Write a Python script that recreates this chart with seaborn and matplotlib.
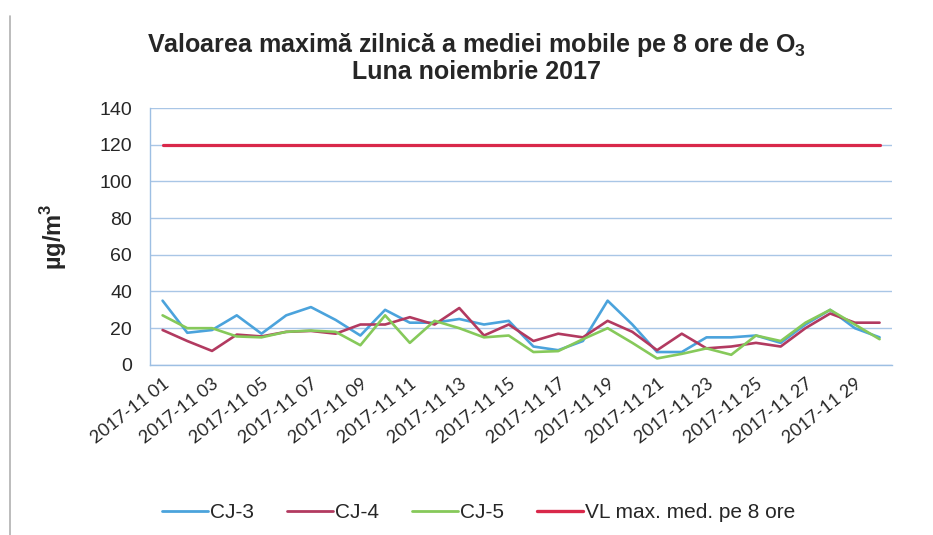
import numpy as np
import pandas as pd
import matplotlib
matplotlib.use("Agg")
import matplotlib.pyplot as plt
import seaborn as sns
from matplotlib.lines import Line2D

dates = [f"2017-11-{d:02d}" for d in range(1, 31)]
tick_labels = [f"2017-11 {d:02d}" for d in range(1, 31, 2)]

cj3 = [35, 17.5, 19, 27, 17, 27, 31.5, 24.5, 16, 30, 23, 23, 25, 22, 24, 10, 8, 13, 35, 22,
       7, 7, 15, 15, 16, 12, 22, 30, 20, 15]
cj4 = [19, 13, 7.6, 16.5, 15.5, 18, 18.5, 17, 22, 22, 26, 22, 31, 16, 22, 13, 17, 15, 24, 18,
       8, 17, 9, 10, 12, 10, 20, 28, 23, 23]
cj5 = [27, 20, 20, 15.5, 15, 18, 18.7, 18, 10.7, 27, 12, 24, 20, 15, 16, 7, 7.5, 14, 20, 12,
       3.5, 6, 9, 5.5, 16, 13, 23, 30, 22, 14]
vl = [120] * 30

series_names = ["CJ-3", "CJ-4", "CJ-5", "VL max. med. pe 8 ore"]
colors = ["#4ba3dc", "#b23a60", "#86c95a", "#d9284a"]

df = pd.DataFrame({
    "idx": np.tile(np.arange(30), 4),
    "value": cj3 + cj4 + cj5 + vl,
    "series": np.repeat(series_names, 30),
})

sns.set_style("white")
plt.rcParams["font.family"] = ["Liberation Sans", "DejaVu Sans"]
plt.rcParams["mathtext.fontset"] = "custom"
plt.rcParams["mathtext.rm"] = "Liberation Sans"
plt.rcParams["mathtext.bf"] = "Liberation Sans:bold"

fig = plt.figure(figsize=(9.33, 5.35), dpi=100)
ax = fig.add_axes([0.161, 0.318, 0.795, 0.48])

sns.lineplot(data=df, x="idx", y="value", hue="series", palette=colors,
             hue_order=series_names, linewidth=1.9, ax=ax, legend=False)
for ln, name in zip(ax.get_lines(), series_names):
    if name == "VL max. med. pe 8 ore":
        ln.set_linewidth(2.3)

ax.set_xlim(-0.5, 29.5)
ax.set_ylim(0, 140)
ax.set_yticks(range(0, 141, 20))
ax.yaxis.grid(True, color="#a9c6e6", linewidth=1.0)
ax.xaxis.grid(False)
for s in ["top", "right"]:
    ax.spines[s].set_visible(False)
for s in ["left", "bottom"]:
    ax.spines[s].set_color("#9dbfe3")
    ax.spines[s].set_linewidth(1.0)

ax.set_xticks(np.arange(0, 30, 2))
ax.set_xticklabels(tick_labels, rotation=38, ha="right", va="top",
                   rotation_mode="anchor", fontsize=13, family=["Lato", "DejaVu Sans"])
ax.set_xticks(np.arange(-0.5, 30, 1), minor=True)
ax.tick_params(axis="x", which="major", length=0, pad=8)
ax.tick_params(axis="x", which="minor", length=5, color="#9dbfe3", direction="in")
ax.tick_params(axis="y", length=5, color="#9dbfe3", labelsize=14, pad=8)
ax.set_xlabel("")
ax.set_ylabel(r"µg/m$^\mathbf{3}$", fontsize=17, fontweight="bold", labelpad=22)

fig.text(0.511, 0.915, r"Valoarea maximă zilnică a mediei mobile pe 8 ore de O$_\mathbf{3}$",
         ha="center", va="center", fontsize=18, fontweight="bold")
fig.text(0.511, 0.865, "Luna noiembrie 2017", ha="center", va="center",
         fontsize=18, fontweight="bold")

handles = [Line2D([], [], color=c, linewidth=2.0 if i < 3 else 2.4) for i, c in enumerate(colors)]
fig.legend(handles, series_names, loc="center", bbox_to_anchor=(0.513, 0.042), ncol=4,
           frameon=False, fontsize=15, handlelength=2.2, handletextpad=0.1,
           columnspacing=1.6)

fig.add_artist(Line2D([0.011, 0.011], [0.0, 0.97], transform=fig.transFigure,
                      color="#b0b0b0", linewidth=1.2))

fig.savefig("out.png", dpi=100)
